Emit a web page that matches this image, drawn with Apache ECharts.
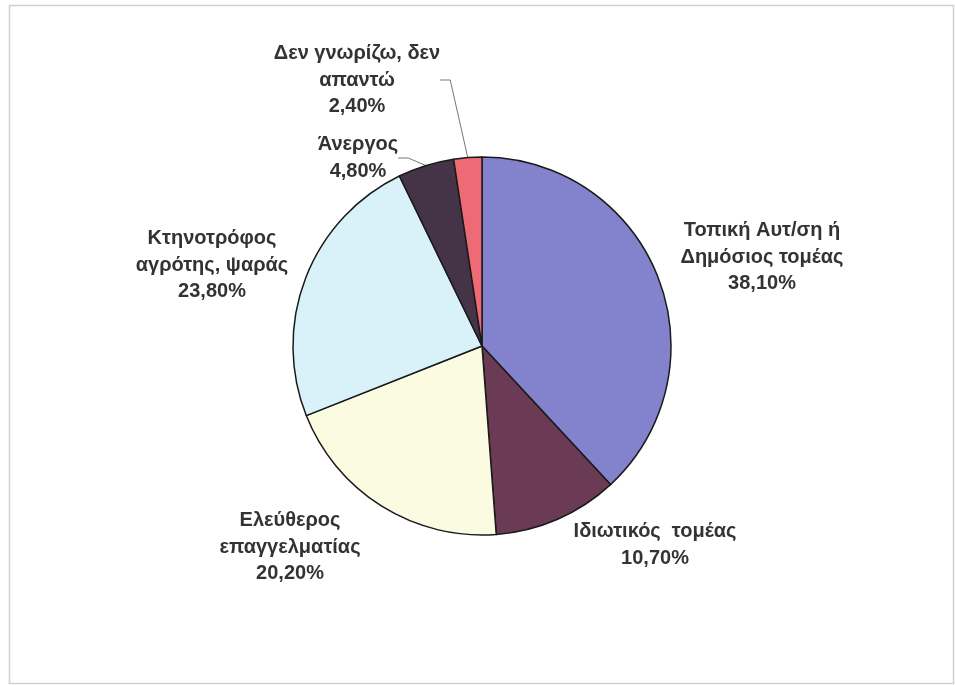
<!DOCTYPE html>
<html>
<head>
<meta charset="utf-8">
<script src="https://cdn.jsdelivr.net/npm/echarts@6/dist/echarts.min.js"></script>
<style>
html,body{margin:0;padding:0;background:#fff;}
#chart{width:955px;height:685px;}
</style>
</head>
<body>
<div id="chart"></div>
<script>
var categories = [
  'Τοπική Αυτ/ση ή\nΔημόσιος τομέας',
  'Ιδιωτικός  τομέας',
  'Ελεύθερος\nεπαγγελματίας',
  'Κτηνοτρόφος\nαγρότης, ψαράς',
  'Άνεργος',
  'Δεν γνωρίζω, δεν\nαπαντώ'
];
var values = [38.1, 10.7, 20.2, 23.8, 4.8, 2.4];
var colors = ['#8383CD', '#6B3A55', '#FBFBE2', '#D9F2FA', '#453448', '#EE6B76'];
var labelPos = [[762, 257], [655, 545], [290, 547], [212, 265], [358, 158], [357, 80]];

var chart = echarts.init(document.getElementById('chart'), null, {renderer: 'canvas'});
chart.setOption({
  backgroundColor: '#fff',
  animation: false,
  graphic: [{
    type: 'rect',
    shape: {x: 9.5, y: 5.5, width: 944, height: 678},
    style: {fill: 'none', stroke: '#d0d0d0', lineWidth: 1.5},
    silent: true
  }],
  series: [{
    type: 'pie',
    center: [482, 346],
    radius: 189,
    startAngle: 90,
    clockwise: true,
    avoidLabelOverlap: false,
    data: categories.map(function (c, i) {
      return {name: c, value: values[i], itemStyle: {color: colors[i]},
        labelLine: {show: i >= 4}};
    }),
    itemStyle: {borderColor: '#1a1a1a', borderWidth: 1.5},
    label: {
      show: true,
      position: 'outside',
      color: '#333',
      fontFamily: 'Liberation Sans, Arial, sans-serif',
      fontWeight: 'bold',
      fontSize: 20,
      lineHeight: 26.5,
      align: 'center',
      formatter: function (p) {
        return p.name + '\n' + p.value.toFixed(2).replace('.', ',') + '%';
      }
    },
    labelLine: {lineStyle: {color: '#777', width: 1}, length: 10, length2: 10},
    labelLayout: function (params) {
      var pos = labelPos[params.dataIndex];
      return {x: pos[0], y: pos[1], align: 'center', verticalAlign: 'middle'};
    }
  }]
});
</script>
</body>
</html>
